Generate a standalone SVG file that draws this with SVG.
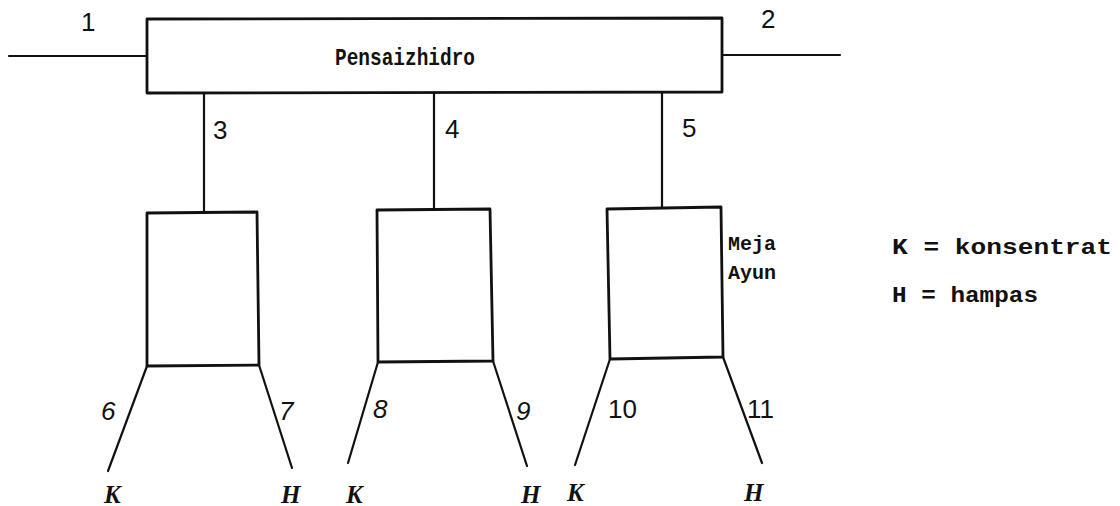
<svg xmlns="http://www.w3.org/2000/svg" width="1120" height="506" viewBox="0 0 1120 506">
  <style>
    .box { fill: none; stroke: #111; stroke-width: 2.8; stroke-linejoin: round; }
    .ln { fill: none; stroke: #111; stroke-width: 2.2; stroke-linecap: round; }
    .num { font-family: "Liberation Sans", Arial, sans-serif; font-size: 26px; fill: #111; }
    .it { font-style: italic; }
    .kh { font-family: "Liberation Serif", "Times New Roman", serif; font-style: italic; font-weight: bold; font-size: 25px; fill: #111; }
    .tw { font-family: "Liberation Mono", "Courier New", monospace; font-weight: bold; fill: #111; }
  </style>
  <rect width="1120" height="506" fill="#ffffff"/>

  <!-- hydrosizer -->
  <g id="hydrosizer">
    <path class="box" d="M147,19 L722,18 L722,92 L147,93 Z"/>
    <text class="tw" x="335" y="65" font-size="24" textLength="140" lengthAdjust="spacingAndGlyphs">Pensaizhidro</text>
  </g>

  <!-- shaking tables -->
  <g id="table1">
    <path class="box" d="M147,213 L257,212 L259,365 L147,366 Z"/>
  </g>
  <g id="table2">
    <path class="box" d="M377,210 L490,209 L493,361 L378,362 Z"/>
  </g>
  <g id="table3">
    <path class="box" d="M607,209 L721,207 L723,357 L610,359 Z"/>
    <text class="tw" x="728" y="250" font-size="20">Meja</text>
    <text class="tw" x="728" y="279" font-size="20">Ayun</text>
  </g>

  <!-- streams -->
  <g id="connectors">
    <line class="ln" x1="9" y1="56" x2="147" y2="56"/>
    <line class="ln" x1="722" y1="55" x2="840" y2="55"/>
    <line class="ln" x1="204" y1="93" x2="204" y2="213"/>
    <line class="ln" x1="434" y1="93" x2="434" y2="210"/>
    <line class="ln" x1="662" y1="92" x2="662" y2="208"/>
    <line class="ln" x1="147" y1="366" x2="108" y2="471"/>
    <line class="ln" x1="259" y1="365" x2="292" y2="468"/>
    <line class="ln" x1="378" y1="362" x2="348" y2="463"/>
    <line class="ln" x1="493" y1="361" x2="527" y2="466"/>
    <line class="ln" x1="610" y1="359" x2="575" y2="465"/>
    <line class="ln" x1="723" y1="357" x2="762" y2="463"/>
  </g>

  <!-- stream numbers -->
  <g id="stream-labels">
    <text class="num" x="81" y="31">1</text>
    <text class="num" x="761" y="28">2</text>
    <text class="num" x="213" y="139" font-size="28">3</text>
    <text class="num" x="445" y="138" font-size="28">4</text>
    <text class="num" x="682" y="137" font-size="28">5</text>
    <text class="num it" x="101" y="420">6</text>
    <text class="num it" x="279" y="420">7</text>
    <text class="num it" x="373" y="418">8</text>
    <text class="num it" x="516" y="420">9</text>
    <text class="num" x="608" y="418">10</text>
    <text class="num" x="747" y="418">11</text>
  </g>

  <!-- products -->
  <g id="products">
    <text class="kh" x="104" y="503">K</text>
    <text class="kh" x="281" y="503">H</text>
    <text class="kh" x="346" y="503">K</text>
    <text class="kh" x="521" y="503">H</text>
    <text class="kh" x="567" y="501">K</text>
    <text class="kh" x="744" y="501">H</text>
  </g>

  <!-- legend -->
  <g id="legend">
    <text class="tw" x="892" y="254" font-size="22" textLength="220" lengthAdjust="spacingAndGlyphs">K = konsentrat</text>
    <text class="tw" x="892" y="302" font-size="22" textLength="146" lengthAdjust="spacingAndGlyphs">H = hampas</text>
  </g>
</svg>
